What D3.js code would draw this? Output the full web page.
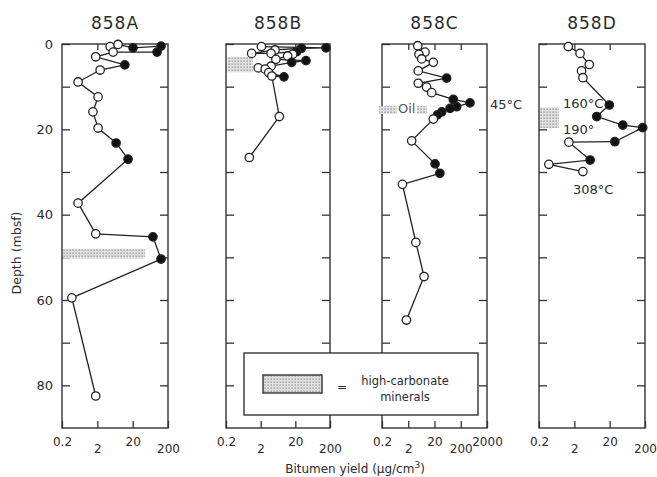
<!DOCTYPE html>
<html>
<head>
<meta charset="utf-8">
<script src="https://cdn.jsdelivr.net/npm/d3@7"></script>
<style>
  body { margin: 0; background: #fff; }
  text { font-family: "DejaVu Sans", sans-serif; fill: #2b2b2b; }
</style>
</head>
<body>
<svg id="chart" width="657" height="477"></svg>
<script>
// ---- data (depth in mbsf, bitumen yield in ug/cm3, filled = 1) ----
var depthA = [0.6, 0.1, 0.9, 0.5, 1.9, 1.9, 3.0, 4.9, 6.1, 8.9, 12.4, 15.9, 19.7, 23.2, 27.0, 37.3, 44.5, 45.2, 50.4, 59.5, 82.5];
var yieldA = [4.6, 7.7, 20.5, 127, 98, 5.6, 1.8, 12, 2.4, 0.57, 2.1, 1.5, 2.1, 6.8, 14.8, 0.57, 1.8, 75, 127, 0.38, 1.8];
var filledA = [0, 0, 1, 1, 1, 0, 0, 1, 0, 0, 0, 0, 0, 1, 1, 0, 0, 1, 1, 0, 0];

var depthB = [0.6, 0.9, 1.0, 1.4, 2.2, 2.2, 1.8, 2.4, 2.8, 3.6, 3.9, 4.3, 5.2, 5.6, 5.9, 6.7, 7.7, 7.5, 17.0, 26.6];
var yieldB = [2.1, 153, 30, 5.2, 1.1, 4.0, 22, 16.8, 12, 5.5, 40.6, 15.7, 4.0, 1.7, 2.7, 3.4, 9.4, 4.2, 6.9, 0.94];
var filledB = [0, 1, 1, 0, 0, 0, 1, 0, 0, 0, 1, 1, 0, 0, 0, 0, 1, 0, 0, 0];

var depthC = [0.4, 1.9, 2.4, 3.5, 4.3, 6.3, 8.0, 9.2, 10.1, 11.4, 13.0, 13.8, 14.7, 15.1, 15.9, 16.6, 17.6, 22.7, 28.1, 30.3, 32.9, 46.5, 54.5, 64.7];
var yieldC = [4.6, 8.7, 5.1, 6.5, 18, 4.8, 58, 4.8, 10, 15.6, 104, 450, 140, 78, 38, 26, 18, 2.7, 21, 32, 1.2, 3.9, 8.0, 1.7];
var filledC = [0, 0, 0, 0, 0, 0, 1, 0, 0, 0, 1, 1, 1, 1, 1, 1, 0, 0, 1, 1, 0, 0, 0, 0];

var depthD = [0.6, 2.2, 4.8, 6.3, 7.9, 14.3, 17.0, 19.0, 19.6, 22.9, 23.0, 27.2, 28.2, 29.9];
var yieldD = [1.35, 2.9, 5.3, 3.2, 3.5, 19.5, 8.6, 47, 172, 28, 1.4, 5.6, 0.38, 3.5];
var filledD = [0, 0, 0, 0, 0, 1, 1, 1, 1, 1, 0, 1, 0, 0];

// high-carbonate (and oil) bands: panel, depth top/bottom, yield reached
var bandPanel = ['A', 'B', 'C', 'D'];
var bandTop = [48.0, 3.0, 14.5, 14.8];
var bandBottom = [50.3, 6.6, 16.4, 19.7];
var bandYield = [45, 1.2, 10.4, 0.74];

// text notes inside the panels
var noteText = ['Oil', '45\u00b0C', '160\u00b0C', '190\u00b0', '308\u00b0C'];
var notePanel = ['C', 'C', 'D', 'D', 'D'];
var noteDepth = [15.0, 14.1, 13.8, 19.9, 34.0];
var noteYield = [1.75, 2600, 0.95, 0.95, 1.83];

var panelNames = ['A', 'B', 'C', 'D'];
var panelTitles = ['858A', '858B', '858C', '858D'];
var panelMax = [200, 200, 2000, 200];
var xTickLabels = ['0.2', '2', '20', '200', '2000'];
var depthTicks = [0, 10, 20, 30, 40, 50, 60, 70, 80];

// ---- layout ----
var svg = d3.select('#chart');
var yTop = 44, yBottom = 428;
var frameLeft = {A: 62, B: 226, C: 382, D: 539};
var frameRight = {A: 168, B: 330, C: 487, D: 645};

var y = d3.scaleLinear().domain([0, 90]).range([yTop, yBottom]);

var series = {
    A: {d: depthA, v: yieldA, f: filledA},
    B: {d: depthB, v: yieldB, f: filledB},
    C: {d: depthC, v: yieldC, f: filledC},
    D: {d: depthD, v: yieldD, f: filledD}
};

// stipple pattern
var pat = svg.append('defs').append('pattern')
    .attr('id', 'stipple')
    .attr('width', 3).attr('height', 3)
    .attr('patternUnits', 'userSpaceOnUse');
pat.append('rect').attr('width', 3).attr('height', 3).attr('fill', '#e2e2e2');
pat.append('rect').attr('x', 0.5).attr('y', 0.5).attr('width', 1.3).attr('height', 1.3).attr('fill', '#8a8a8a');

var scales = {};

panelNames.forEach(function(p, i) {
    var x = d3.scaleLog().domain([0.2, panelMax[i]]).range([frameLeft[p], frameRight[p]]);
    scales[p] = x;
    var g = svg.append('g').attr('class', 'panel-' + p);

    // frame
    g.append('rect')
        .attr('x', frameLeft[p]).attr('y', yTop)
        .attr('width', frameRight[p] - frameLeft[p]).attr('height', yBottom - yTop)
        .attr('fill', 'none').attr('stroke', '#333').attr('stroke-width', 1.4);

    // title
    g.append('text')
        .attr('x', (frameLeft[p] + frameRight[p]) / 2).attr('y', 29)
        .attr('text-anchor', 'middle')
        .style('font-size', '17px').style('letter-spacing', '1px')
        .text(panelTitles[i]);

    // depth ticks, inward on both sides
    var leftAxis = d3.axisLeft(y).tickValues(depthTicks).tickSize(-8).tickPadding(9)
        .tickFormat(function(d) { return (p === 'A' && d % 20 === 0) ? d : ''; });
    var la = g.append('g').attr('transform', 'translate(' + frameLeft[p] + ',0)').call(leftAxis);
    var rightAxis = d3.axisRight(y).tickValues(depthTicks.slice(1)).tickSize(-8).tickFormat('');
    var ra = g.append('g').attr('transform', 'translate(' + frameRight[p] + ',0)').call(rightAxis);
    [la, ra].forEach(function(a) {
        a.select('.domain').remove();
        a.selectAll('line').attr('stroke', '#333').attr('stroke-width', 1.3);
    });
    la.selectAll('text').style('font-size', '13px').attr('fill', '#2b2b2b');

    // yield ticks on bottom (with staggered labels) and top
    var xt = xTickLabels.slice(0, panelMax[i] === 2000 ? 5 : 4).map(Number);
    var bAxis = d3.axisBottom(x).tickValues(xt).tickSize(-7)
        .tickFormat(function(d, k) { return xTickLabels[k]; });
    var ba = g.append('g').attr('transform', 'translate(0,' + yBottom + ')').call(bAxis);
    ba.select('.domain').remove();
    ba.selectAll('line').attr('stroke', '#333').attr('stroke-width', 1.3);
    ba.selectAll('text')
        .style('font-size', '12px').attr('fill', '#2b2b2b')
        .attr('y', function(d, k) { return k % 2 === 0 ? 9 : 16; });

    var tAxis = d3.axisTop(x).tickValues(xt.slice(1, -1)).tickSize(-6).tickFormat('');
    var ta = g.append('g').attr('transform', 'translate(0,' + yTop + ')').call(tAxis);
    ta.select('.domain').remove();
    ta.selectAll('line').attr('stroke', '#333').attr('stroke-width', 1.3);
});

// bands
bandPanel.forEach(function(p, i) {
    var x = scales[p];
    var x0 = p === 'C' ? x(0.2) - 3 : x(0.2) + 1;
    svg.append('rect')
        .attr('x', x0).attr('y', y(bandTop[i]))
        .attr('width', x(bandYield[i]) - x0)
        .attr('height', y(bandBottom[i]) - y(bandTop[i]))
        .attr('fill', 'url(#stipple)');
});

// notes
noteText.forEach(function(t, i) {
    var x = scales[notePanel[i]];
    var isOil = t === 'Oil';
    if (isOil) {
        svg.append('rect')
            .attr('x', x(noteYield[i]) - 10).attr('y', y(noteDepth[i]) - 7)
            .attr('width', 20).attr('height', 14).attr('fill', '#fff');
    }
    svg.append('text')
        .attr('x', x(noteYield[i])).attr('y', y(noteDepth[i]))
        .attr('dy', '0.36em')
        .attr('text-anchor', isOil ? 'middle' : 'start')
        .style('font-size', '13px')
        .style('fill', isOil ? '#555' : '#2b2b2b')
        .text(t);
});

// profiles
panelNames.forEach(function(p) {
    var x = scales[p];
    var s = series[p];
    var pts = s.d.map(function(d, k) { return {depth: d, val: s.v[k], filled: s.f[k]}; });

    var line = d3.line()
        .x(function(d) { return x(d.val); })
        .y(function(d) { return y(d.depth); });

    svg.append('path')
        .datum(pts)
        .attr('d', line)
        .attr('fill', 'none')
        .attr('stroke', '#222')
        .attr('stroke-width', 1.3);

    svg.append('g').selectAll('circle')
        .data(pts)
        .enter()
        .append('circle')
        .attr('cx', function(d) { return x(d.val); })
        .attr('cy', function(d) { return y(d.depth); })
        .attr('r', 4.2)
        .attr('fill', function(d) { return d.filled ? '#111' : '#fff'; })
        .attr('stroke', '#222')
        .attr('stroke-width', 1.3);
});

// legend
var lg = svg.append('g');
lg.append('rect').attr('x', 244).attr('y', 353).attr('width', 234).attr('height', 62)
    .attr('fill', '#fff').attr('stroke', '#333').attr('stroke-width', 1.4);
lg.append('rect').attr('x', 263).attr('y', 375).attr('width', 59).attr('height', 18)
    .attr('fill', 'url(#stipple)').attr('stroke', '#333').attr('stroke-width', 1.4);
lg.append('text').attr('x', 342).attr('y', 391).attr('text-anchor', 'middle')
    .style('font-size', '12px').text('=');
lg.append('text').attr('x', 405).attr('y', 385).attr('text-anchor', 'middle')
    .style('font-size', '11.5px').text('high-carbonate');
lg.append('text').attr('x', 405).attr('y', 401).attr('text-anchor', 'middle')
    .style('font-size', '11.5px').text('minerals');

// axis titles
svg.append('text')
    .attr('transform', 'translate(21,253) rotate(-90)')
    .attr('text-anchor', 'middle')
    .style('font-size', '12.5px')
    .text('Depth (mbsf)');

var xt = svg.append('text')
    .attr('x', 355).attr('y', 473)
    .attr('text-anchor', 'middle')
    .style('font-size', '12px');
xt.append('tspan').text('Bitumen yield (\u03bcg/cm');
xt.append('tspan').attr('dy', -5).style('font-size', '9px').text('3');
xt.append('tspan').attr('dy', 5).text(')');
</script>
</body>
</html>
